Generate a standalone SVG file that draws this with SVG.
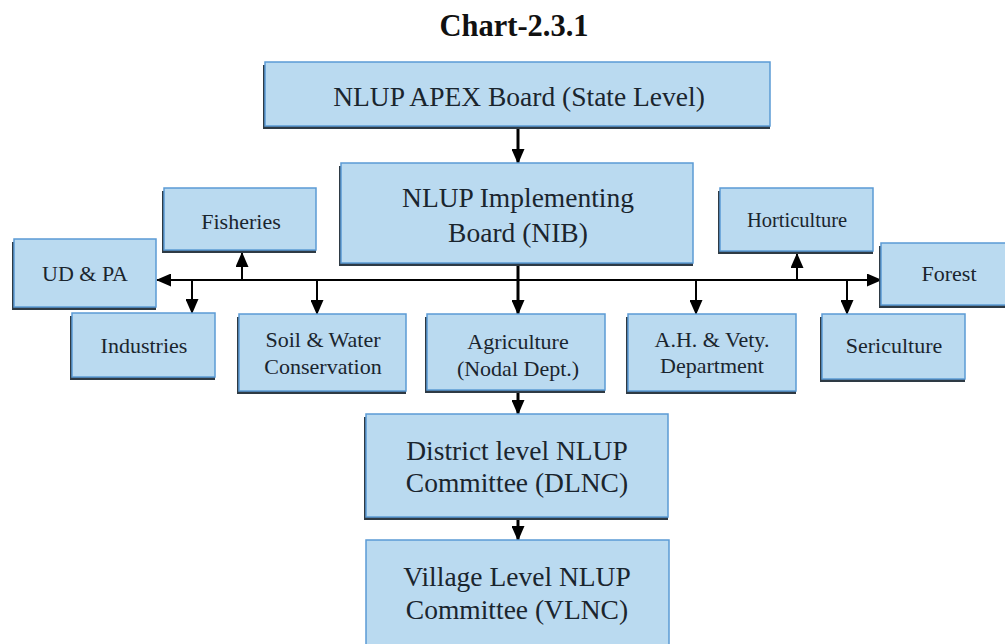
<svg xmlns="http://www.w3.org/2000/svg" width="1005" height="644" viewBox="0 0 1005 644">
  <defs>
    <style>
      .shadow { fill: #2e3a44; }
      .box { fill: #badaf0; stroke: #5b9bd5; stroke-width: 1.5; }
      .t { font-family: "Liberation Serif", "Times New Roman", serif; fill: #1a252e; text-anchor: middle; }
      .big { font-size: 27.5px; }
      .sm { font-size: 22px; }
      .title { font-family: "Liberation Serif", "Times New Roman", serif; font-weight: bold; font-size: 30.5px; fill: #111; text-anchor: middle; }
      .ln { stroke: #000; stroke-width: 2; fill: none; }
      .lnb { stroke: #000; stroke-width: 3; fill: none; }
    </style>
    <marker id="ah" markerUnits="userSpaceOnUse" markerWidth="15" markerHeight="13" refX="14" refY="6.5" orient="auto">
      <path d="M0,0 L15,6.5 L0,13 Z" fill="#000"/>
    </marker>
  </defs>
  <rect x="0" y="0" width="1005" height="644" fill="#ffffff"/>

  <text class="title" x="514" y="36">Chart-2.3.1</text>

  <g id="connectors">
    <line class="lnb" x1="518" y1="129" x2="518" y2="163" marker-end="url(#ah)"/>
    <line class="lnb" x1="518" y1="266" x2="518" y2="314" marker-end="url(#ah)"/>
    <line class="ln" x1="518" y1="280" x2="157" y2="280" marker-end="url(#ah)"/>
    <line class="ln" x1="518" y1="280" x2="881" y2="280" marker-end="url(#ah)"/>
    <line class="ln" x1="242" y1="280" x2="242" y2="253" marker-end="url(#ah)"/>
    <line class="ln" x1="192" y1="280" x2="192" y2="313" marker-end="url(#ah)"/>
    <line class="ln" x1="317" y1="280" x2="317" y2="314" marker-end="url(#ah)"/>
    <line class="ln" x1="696" y1="280" x2="696" y2="314" marker-end="url(#ah)"/>
    <line class="ln" x1="797" y1="280" x2="797" y2="254" marker-end="url(#ah)"/>
    <line class="ln" x1="847" y1="280" x2="847" y2="314" marker-end="url(#ah)"/>
    <line class="lnb" x1="518" y1="393" x2="518" y2="414" marker-end="url(#ah)"/>
    <line class="lnb" x1="518" y1="520" x2="518" y2="540" marker-end="url(#ah)"/>
  </g>

  <g id="apex">
    <rect class="shadow" x="263" y="65" width="507" height="64"/>
    <rect class="box" x="265" y="62" width="505" height="64"/>
    <text class="t big" x="519" y="106">NLUP APEX Board (State Level)</text>
  </g>

  <g id="nib">
    <rect class="shadow" x="339" y="166" width="354" height="100"/>
    <rect class="box" x="341" y="163" width="352" height="100"/>
    <text class="t big" x="518" y="207">NLUP Implementing</text>
    <text class="t big" x="518" y="242">Board (NIB)</text>
  </g>

  <g id="fisheries">
    <rect class="shadow" x="162" y="191" width="154" height="62"/>
    <rect class="box" x="164" y="188" width="152" height="62"/>
    <text class="t sm" x="241" y="229">Fisheries</text>
  </g>

  <g id="udpa">
    <rect class="shadow" x="12" y="242" width="144" height="68"/>
    <rect class="box" x="14" y="239" width="142" height="68"/>
    <text class="t sm" x="85" y="281">UD &amp; PA</text>
  </g>

  <g id="industries">
    <rect class="shadow" x="70" y="316" width="145" height="64"/>
    <rect class="box" x="72" y="313" width="143" height="64"/>
    <text class="t sm" x="144" y="353">Industries</text>
  </g>

  <g id="soil">
    <rect class="shadow" x="237" y="317" width="169" height="77"/>
    <rect class="box" x="239" y="314" width="167" height="77"/>
    <text class="t sm" x="323" y="347">Soil &amp; Water</text>
    <text class="t sm" x="323" y="374">Conservation</text>
  </g>

  <g id="agriculture">
    <rect class="shadow" x="425" y="317" width="180" height="76"/>
    <rect class="box" x="427" y="314" width="178" height="76"/>
    <text class="t sm" x="518" y="349">Agriculture</text>
    <text class="t sm" x="518" y="376">(Nodal Dept.)</text>
  </g>

  <g id="ahvety">
    <rect class="shadow" x="626" y="317" width="170" height="77"/>
    <rect class="box" x="628" y="314" width="168" height="77"/>
    <text class="t sm" x="712" y="347">A.H. &amp; Vety.</text>
    <text class="t sm" x="712" y="373">Department</text>
  </g>

  <g id="sericulture">
    <rect class="shadow" x="820" y="317" width="145" height="65"/>
    <rect class="box" x="822" y="314" width="143" height="65"/>
    <text class="t sm" x="894" y="353">Sericulture</text>
  </g>

  <g id="horticulture">
    <rect class="shadow" x="718" y="191" width="155" height="63"/>
    <rect class="box" x="720" y="188" width="153" height="63"/>
    <text class="t" x="797" y="227" font-size="20.5">Horticulture</text>
  </g>

  <g id="forest">
    <rect class="shadow" x="879" y="246" width="132" height="62"/>
    <rect class="box" x="881" y="243" width="130" height="62"/>
    <text class="t sm" x="949" y="281">Forest</text>
  </g>

  <g id="dlnc">
    <rect class="shadow" x="364" y="417" width="304" height="103"/>
    <rect class="box" x="366" y="414" width="302" height="103"/>
    <text class="t big" x="517" y="460">District level NLUP</text>
    <text class="t big" x="517" y="492">Committee (DLNC)</text>
  </g>

  <g id="vlnc">
    <rect class="box" x="366" y="540" width="303" height="110"/>
    <text class="t big" x="517" y="586">Village Level NLUP</text>
    <text class="t big" x="517" y="619">Committee (VLNC)</text>
  </g>
</svg>
